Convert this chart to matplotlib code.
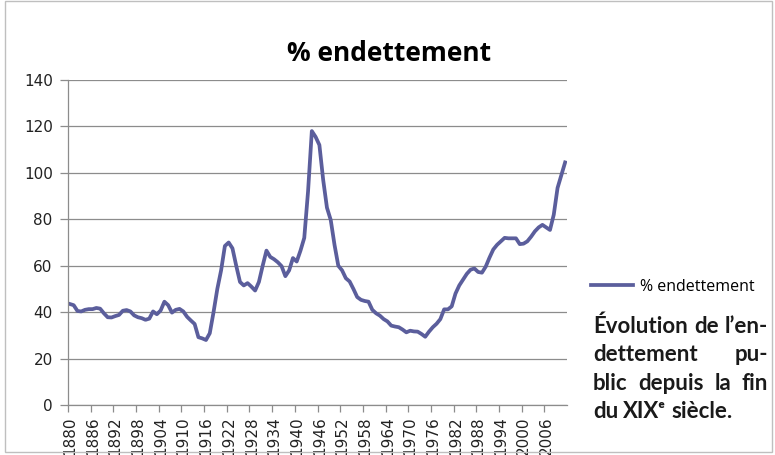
import matplotlib
matplotlib.use("Agg")
import matplotlib.pyplot as plt
from matplotlib.patches import Rectangle

# public debt, % of GDP, one value per year from 1880 to 2011
years = list(range(1880, 2012))
debt = [
    43.5, 43.0, 40.5, 40.3, 41.0, 41.3, 41.3, 41.8, 41.5, 39.5,   # 1880s
    37.8, 37.7, 38.3, 38.8, 40.6, 40.9, 40.3, 38.6, 37.8, 37.4,   # 1890s
    36.7, 37.2, 40.3, 39.1, 40.7, 44.5, 43.0, 39.8, 41.0, 41.4,   # 1900s
    40.3, 38.0, 36.4, 34.9, 29.2, 28.7, 28.0, 30.9, 40.0, 50.0,   # 1910s
    58.0, 68.5, 70.0, 67.5, 60.0, 53.0, 51.5, 52.5, 51.0, 49.3,   # 1920s
    53.0, 60.0, 66.5, 63.8, 62.8, 61.5, 59.8, 55.5, 58.0, 63.3,   # 1930s
    61.8, 66.5, 72.0, 92.0, 118.0, 115.5, 112.0, 97.0, 85.0, 79.7,  # 1940s
    69.0, 60.0, 58.0, 54.6, 53.2, 50.0, 46.5, 45.3, 44.8, 44.5,   # 1950s
    41.0, 39.5, 38.5, 37.0, 36.0, 34.2, 33.8, 33.5, 32.5, 31.3,   # 1960s
    32.0, 31.7, 31.6, 30.6, 29.4, 31.6, 33.5, 35.0, 37.0, 41.2,   # 1970s
    41.2, 42.5, 48.0, 51.5, 54.0, 56.5, 58.3, 58.8, 57.3, 57.0,   # 1980s
    59.6, 63.5, 67.0, 69.0, 70.5, 72.0, 71.8, 71.8, 71.8, 69.3,   # 1990s
    69.5, 70.5, 72.5, 74.8, 76.5, 77.6, 76.5, 75.4, 82.0, 93.5,   # 2000s
    99.0, 104.5,
]
y_ticks = [0, 20, 40, 60, 80, 100, 120, 140]
label_step = 6

title = "% endettement"
series_name = "% endettement"
note_lines = ["Évolution de l’en-", "dettement pu-", "blic depuis la fin", "du XIXᵉ siècle."]

LINE = "#5b5e9c"
GRID = "#8c8c8c"
W, H = 775, 455

fig = plt.figure(figsize=(W / 100, H / 100), dpi=100)
ax = fig.add_axes([68 / W, 1 - 405 / H, (567 - 68) / W, (405 - 80) / H])

# categories sit between tick marks, like the original spreadsheet chart
xs = [i + 0.5 for i in range(len(years))]
ax.plot(xs, debt, color=LINE, lw=2.7, label=series_name, solid_joinstyle="round")
ax.set_xlim(0, len(years))
ax.set_ylim(0, 140)

ax.set_yticks(y_ticks)
ax.yaxis.grid(True, color=GRID, lw=0.9)
ax.set_axisbelow(True)

ax.set_xticks(xs[::label_step])
ax.set_xticklabels([str(y) for y in years[::label_step]], rotation=90)
ax.set_xticks(list(range(0, len(years), label_step)), minor=True)
ax.tick_params(axis="x", which="major", length=0, pad=8, labelsize=11, colors="#222222")
ax.tick_params(axis="x", which="minor", length=5, color=GRID, width=0.9)
ax.tick_params(axis="y", length=6, color=GRID, width=0.9, pad=5, labelsize=11, labelcolor="#222222")

for side in ["top", "right"]:
    ax.spines[side].set_visible(False)
for side in ["left", "bottom"]:
    ax.spines[side].set_color(GRID)
    ax.spines[side].set_linewidth(0.9)

fig.text(389 / W, 1 - 61 / H, title, ha="center", va="baseline",
         fontsize=19, fontweight="bold", family=["Open Sans", "DejaVu Sans"])

fig.legend(loc="center left", bbox_to_anchor=(591 / W, 1 - 287 / H), frameon=False,
           handlelength=2.6, handletextpad=0.45, borderpad=0, borderaxespad=0,
           prop={"family": ["Open Sans", "DejaVu Sans"], "size": 11.5})

# outer chart border
fig.patches.append(Rectangle((5 / W, 3 / H), 767 / W, 451 / H, transform=fig.transFigure,
                             fill=False, edgecolor="#bfbfbf", lw=1))

# justified note beside the chart
x0, x1 = 593, 768
base0, step = 333, 28.3
fonts = ["Lato", "DejaVu Sans"]
fig.canvas.draw()
renderer = fig.canvas.get_renderer()
for k, line in enumerate(note_lines):
    words = line.split()
    yb = 1 - (base0 + k * step) / H
    texts = [fig.text(0, yb, w, ha="left", va="baseline", fontsize=16,
                      fontweight="bold", family=fonts, color="#1a1a1a") for w in words]
    widths = [t.get_window_extent(renderer).width for t in texts]
    if k == len(note_lines) - 1:
        gap = 5
    else:
        gap = (x1 - x0 - sum(widths)) / (len(words) - 1)
    x = x0
    for t, w in zip(texts, widths):
        t.set_x(x / W)
        x += w + gap

fig.savefig("out.png", dpi=100)
